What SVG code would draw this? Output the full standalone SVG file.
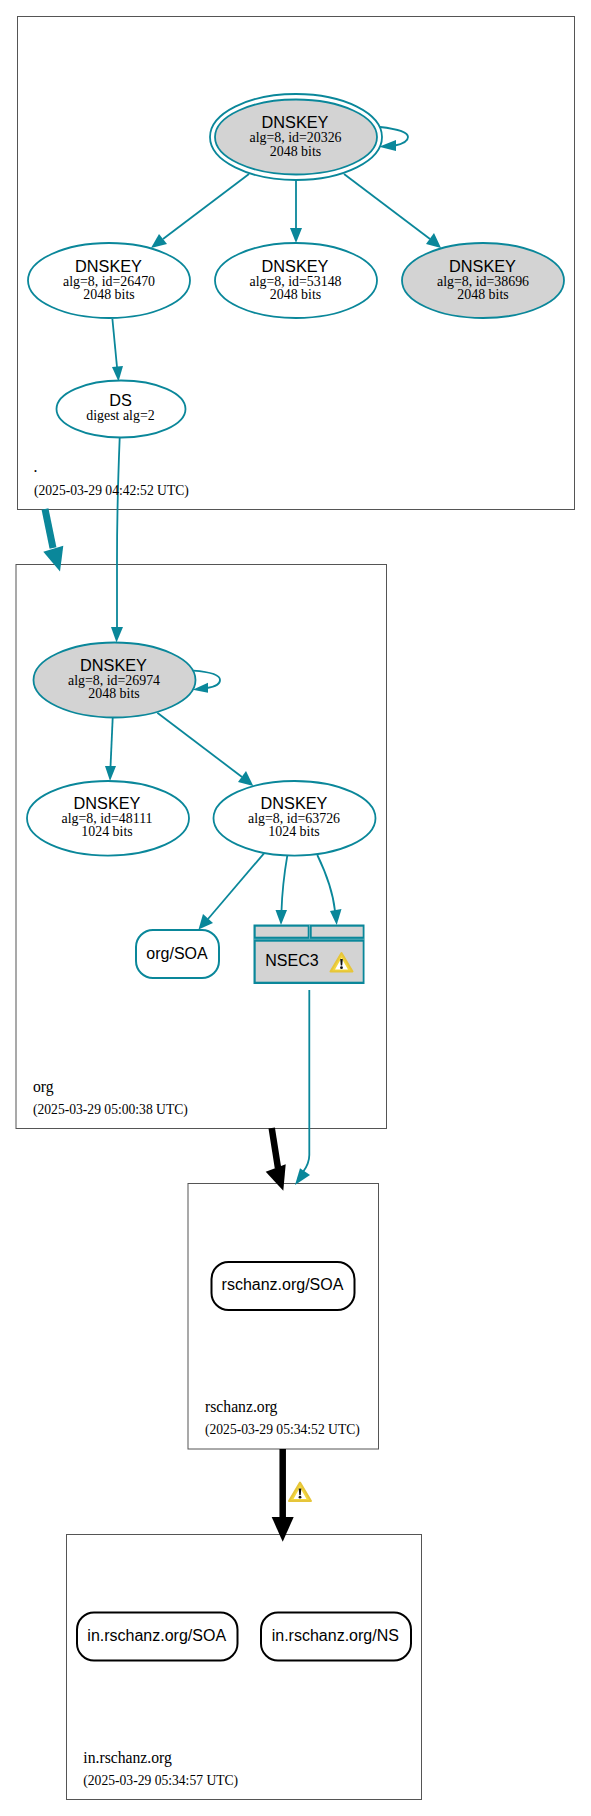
<svg xmlns="http://www.w3.org/2000/svg" width="591" height="1816" viewBox="0 0 591 1816">
<style>
.zone{fill:#fff;stroke:#555;stroke-width:1}
.k{fill:#fff;stroke:#0a879a;stroke-width:1.8}
.g{fill:#d3d3d3}
.r{fill:#fff;stroke:#000;stroke-width:2}
.e{fill:none;stroke:#0a879a;stroke-width:1.8}
.ah{fill:#0a879a}
.s{font-family:"Liberation Sans",Arial,sans-serif;font-size:16.3px;text-anchor:middle;fill:#000}
.b{font-size:16px}
.t{font-family:"Liberation Serif","Times New Roman",serif;font-size:13.9px;text-anchor:middle;fill:#000}
.l{font-family:"Liberation Serif","Times New Roman",serif;font-size:15.7px;fill:#000}
.d{font-family:"Liberation Serif","Times New Roman",serif;font-size:13.6px;fill:#000}
</style>
<defs>
<g id="warn">
<path d="M12 1.500 L23 20 L1 20 Z" fill="#f3d63c" stroke="#e6c53a" stroke-width="2" stroke-linejoin="round"/>
<path d="M12 6.500 L18.500 18 L5.500 18 Z" fill="#fff"/>
<path d="M10.700 7.500 L13.300 7.500 L12.700 14 L11.300 14 Z" fill="#111"/>
<circle cx="12" cy="16.200" r="1.400" fill="#111"/>
</g>
</defs>
<g id="zones">
<rect class="zone" x="17.500" y="16.500" width="557" height="493"/>
<rect class="zone" x="16" y="564.500" width="370.500" height="564"/>
<rect class="zone" x="188" y="1183.500" width="190.500" height="265.500"/>
<rect class="zone" x="66.500" y="1534.500" width="355" height="265"/>
</g>
<g id="connectors">
<path class="e" d="M249 174 L163 239"/>
<path class="ah" d="M151 248 L159 234 L167 244 Z"/>
<path class="e" d="M296 180 L296 229"/>
<path class="ah" d="M296 243 L290 228 L302 228 Z"/>
<path class="e" d="M344 174 L430 239"/>
<path class="ah" d="M441 248 L426 244 L434 233 Z"/>
<path class="e" d="M380 127 C398 129 408 132 408 137 C408 142 402 144 395 145.500"/>
<path class="ah" d="M379 146.800 L396 140 L396 151 Z"/>
<path class="e" d="M112.400 319 L117 367"/>
<path class="ah" d="M118.500 381.500 L112 367 L123 366 Z"/>
<path class="e" d="M119.700 437.700 C118 480 117 510 117 560 L117 628"/>
<path class="ah" d="M116.500 642.500 L111 627 L123 627 Z"/>
<path class="e" d="M193.300 670.700 C211 672 220 675 220 680 C220 685 214 687 207 688"/>
<path class="ah" d="M192.700 689.700 L208 682.700 L208 692.700 Z"/>
<path class="e" d="M112.700 717.700 L110.500 767"/>
<path class="ah" d="M110 781 L105 766 L116 766 Z"/>
<path class="e" d="M157.300 712.700 L242 777"/>
<path class="ah" d="M253.300 786 L238 782 L246 771 Z"/>
<path class="e" d="M264 853.300 L208 919"/>
<path class="ah" d="M198.500 929.500 L203 914 L213 923 Z"/>
<path class="e" d="M287.300 855.700 C284 875 282 895 281.500 911"/>
<path class="ah" d="M281 925 L275.500 910 L287 910 Z"/>
<path class="e" d="M317.300 855 C326 873 333 892 335 911"/>
<path class="ah" d="M336.700 925 L330 911 L341.500 909 Z"/>
<path class="e" d="M309.300 990 L309.300 1155 C309.300 1163 306 1168 303 1172"/>
<path class="ah" d="M295 1185 L300 1168.300 L310 1175 Z"/>
<path d="M45 509 L53 548" fill="none" stroke="#0a879a" stroke-width="7"/>
<path class="ah" d="M60 571.500 L43.300 551.700 L63.300 545.700 Z"/>
<path d="M271.700 1128 L278 1168" fill="none" stroke="#000" stroke-width="6.500"/>
<path d="M283.300 1190.700 L265.700 1171.700 L285.700 1164.300 Z" fill="#000"/>
<path d="M282.700 1449 L282.700 1518" fill="none" stroke="#000" stroke-width="6.500"/>
<path d="M282.700 1541.700 L271.700 1517 L293.700 1517 Z" fill="#000"/>
<use href="#warn" x="288" y="1481"/>
</g>
<g id="n20326">
<ellipse cx="296" cy="137" rx="86" ry="43" fill="none" stroke="#0a879a" stroke-width="1.800"/>
<ellipse class="k" style="fill:#d3d3d3" cx="296" cy="137" rx="81" ry="37.500"/>
<text class="s" x="295" y="127.500">DNSKEY</text><text class="t" x="295.500" y="141.700">alg=8, id=20326</text><text class="t" x="295.500" y="155.500">2048 bits</text>
</g>
<g id="n26470">
<ellipse class="k" cx="109" cy="280.500" rx="81" ry="37.500"/>
<text class="s" x="108.500" y="271.500">DNSKEY</text><text class="t" x="109" y="285.500">alg=8, id=26470</text><text class="t" x="109" y="298.700">2048 bits</text>
</g>
<g id="n53148">
<ellipse class="k" cx="296" cy="280.500" rx="81" ry="37.500"/>
<text class="s" x="295" y="271.500">DNSKEY</text><text class="t" x="295.500" y="285.500">alg=8, id=53148</text><text class="t" x="295.500" y="298.700">2048 bits</text>
</g>
<g id="n38696">
<ellipse class="k" style="fill:#d3d3d3" cx="483" cy="280.500" rx="81" ry="37.500"/>
<text class="s" x="482.500" y="271.500">DNSKEY</text><text class="t" x="483" y="285.500">alg=8, id=38696</text><text class="t" x="483" y="298.700">2048 bits</text>
</g>
<g id="nDS">
<ellipse class="k" cx="121" cy="409" rx="64.500" ry="28.500"/>
<text class="s" x="120.500" y="406">DS</text><text class="t" x="120.500" y="420">digest alg=2</text>
</g>
<g id="n26974">
<ellipse class="k" style="fill:#d3d3d3" cx="114.500" cy="680" rx="81" ry="37.500"/>
<text class="s" x="113.500" y="670.500">DNSKEY</text><text class="t" x="114" y="684.500">alg=8, id=26974</text><text class="t" x="114" y="697.700">2048 bits</text>
</g>
<g id="n48111">
<ellipse class="k" cx="108" cy="818.300" rx="81" ry="37.300"/>
<text class="s" x="107" y="808.500">DNSKEY</text><text class="t" x="107" y="822.500">alg=8, id=48111</text><text class="t" x="107" y="835.700">1024 bits</text>
</g>
<g id="n63726">
<ellipse class="k" cx="294.500" cy="818.300" rx="81" ry="37.300"/>
<text class="s" x="294" y="808.500">DNSKEY</text><text class="t" x="294" y="822.500">alg=8, id=63726</text><text class="t" x="294" y="835.700">1024 bits</text>
</g>
<g id="nOrgSOA">
<rect x="136" y="930" width="83" height="48" rx="17" fill="#fff" stroke="#0a879a" stroke-width="2"/>
<text class="s b" x="177" y="958.500">org/SOA</text>
</g>
<g id="nNSEC3">
<rect x="253.500" y="924.500" width="111" height="59.500" fill="#0a879a"/>
<path d="M254 939.200 H364 M309.500 925 V939" stroke="#5aaebb" stroke-width="1" fill="none"/>
<rect class="g" x="255.700" y="926.700" width="52" height="10"/>
<rect class="g" x="311.700" y="926.700" width="51" height="10"/>
<rect class="g" x="255.700" y="941.700" width="107" height="40"/>
<text class="s b" x="265.300" y="965.700" style="text-anchor:start">NSEC3</text>
<use href="#warn" x="329.500" y="951.500"/>
</g>
<g id="nRschanzSOA">
<rect class="r" x="211.500" y="1262" width="143" height="48" rx="17"/>
<text class="s b" x="282.500" y="1290">rschanz.org/SOA</text>
</g>
<g id="nInSOA">
<rect class="r" x="77" y="1612.500" width="160.500" height="48" rx="17"/>
<text class="s b" x="156.700" y="1640.700">in.rschanz.org/SOA</text>
</g>
<g id="nInNS">
<rect class="r" x="261" y="1612.500" width="150" height="48" rx="17"/>
<text class="s b" x="335.300" y="1640.700">in.rschanz.org/NS</text>
</g>
<g id="labels">
<text class="l" x="33.500" y="472">.</text>
<text class="d" x="34" y="495">(2025-03-29 04:42:52 UTC)</text>
<text class="l" x="33" y="1091.700">org</text>
<text class="d" x="33" y="1114">(2025-03-29 05:00:38 UTC)</text>
<text class="l" x="205" y="1411.700">rschanz.org</text>
<text class="d" x="205" y="1434.300">(2025-03-29 05:34:52 UTC)</text>
<text class="l" x="83.300" y="1762.500">in.rschanz.org</text>
<text class="d" x="83.300" y="1784.500">(2025-03-29 05:34:57 UTC)</text>
</g>
</svg>
